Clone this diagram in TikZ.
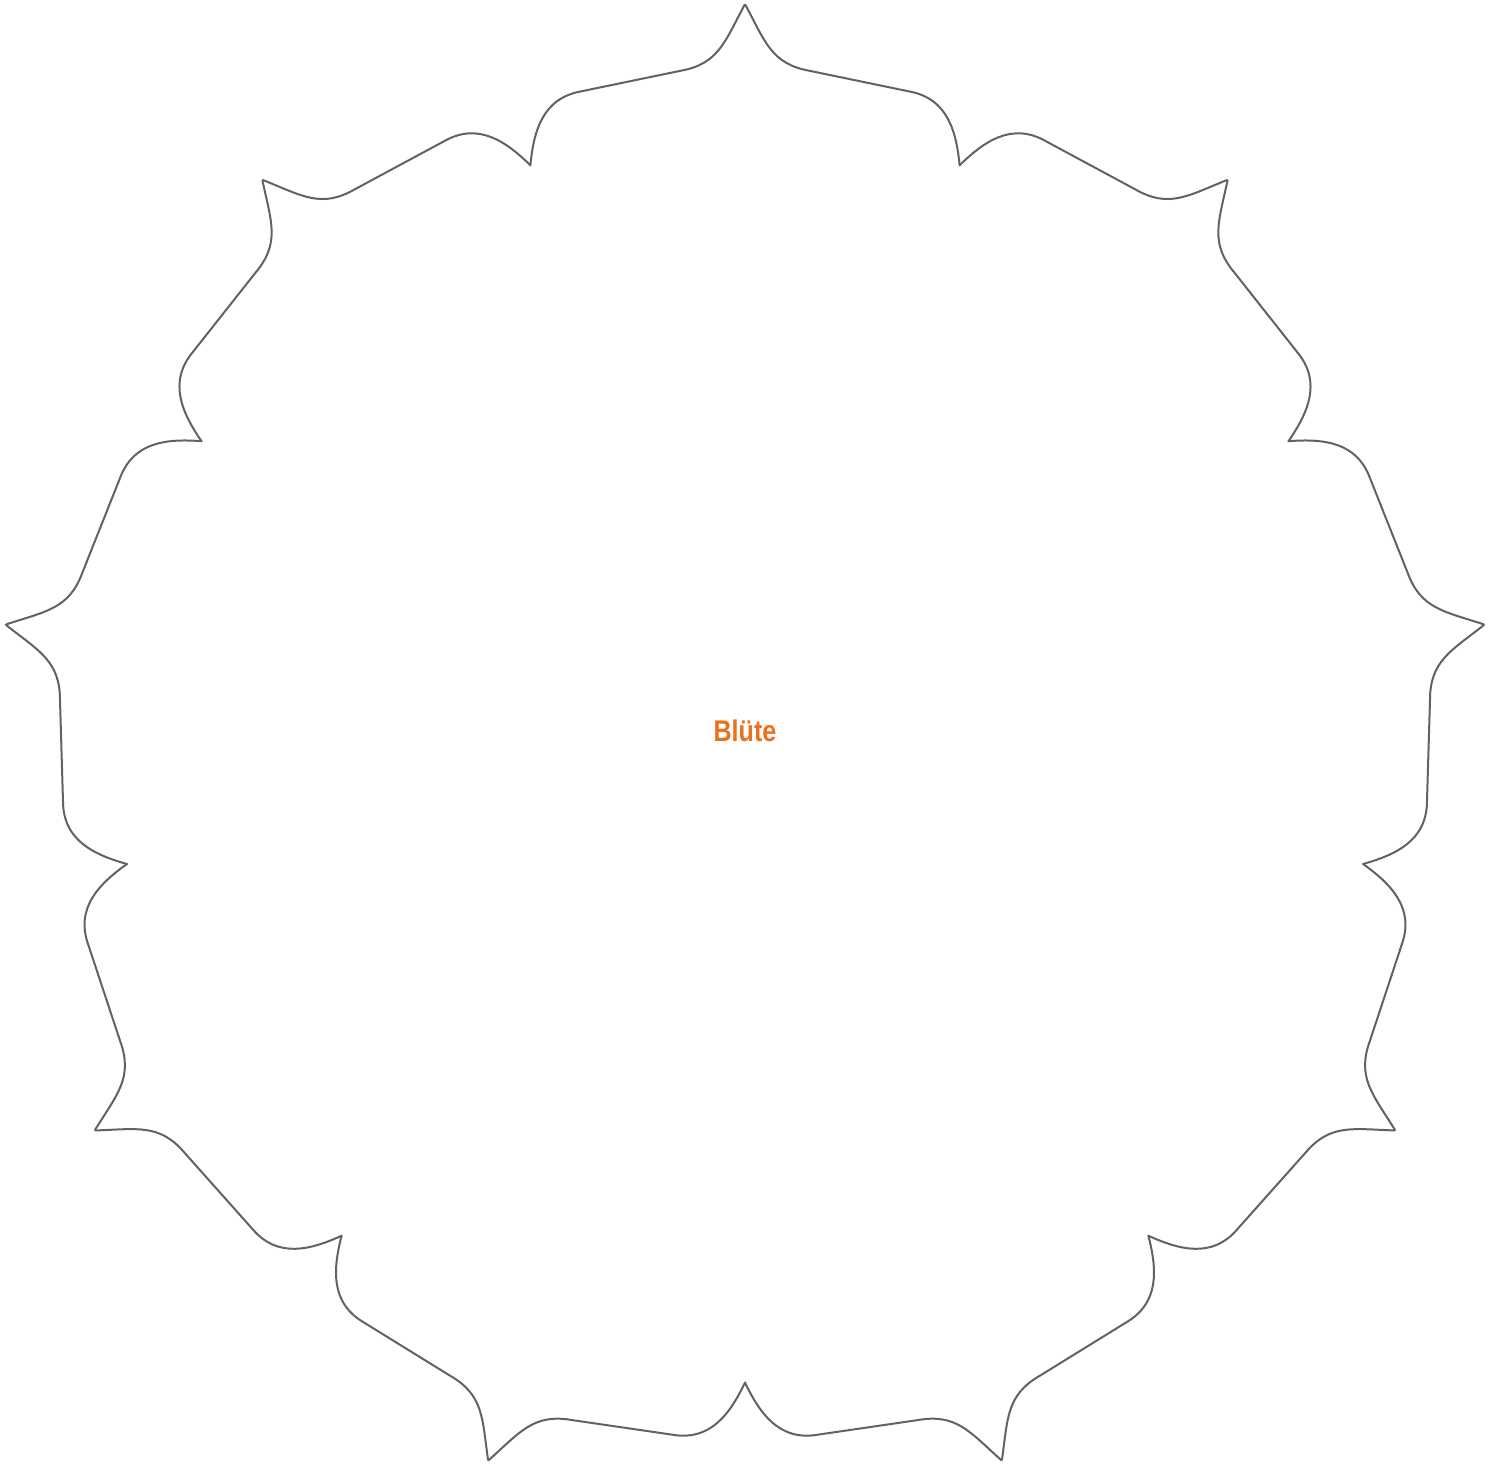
\documentclass[tikz,border=0pt]{standalone}
\usepackage{fontspec}
\usepackage{xcolor}
\usepackage{tikz}
\newfontfamily\labelfont{Liberation Sans}[FakeStretch=0.84]
\definecolor{bluete}{RGB}{236,112,28}
\definecolor{outline}{RGB}{98,98,98}
\tikzset{
  petal/.style ={draw=outline, line width=0.4mm, line join=round, line cap=round},
  ttl/.style   ={font=\labelfont\bfseries\fontsize{17pt}{20pt}\selectfont, text=bluete, inner sep=0pt},
  halfpetal/.pic ={\draw[petal] (130,739) .. controls (104,706) and (94,685) .. (55,685)
                     -- (-46,682) .. controls (-86,682) and (-100,650) .. (-109,618);},
}
\begin{document}
\begin{tikzpicture}[x=0.2mm, y=0.2mm]
  \useasboundingbox (-745,-710) rectangle (756,755);
  % nine lobes, each from one outer tip to the next
  \foreach \k in {0,...,8}{
    \pic[rotate=\k*40+10] {halfpetal};
    \pic[rotate=\k*40+30, xscale=-1] {halfpetal};
  }
  \node[ttl, anchor=base] (bluete) at (0,14) {Blüte};
\end{tikzpicture}
\end{document}
